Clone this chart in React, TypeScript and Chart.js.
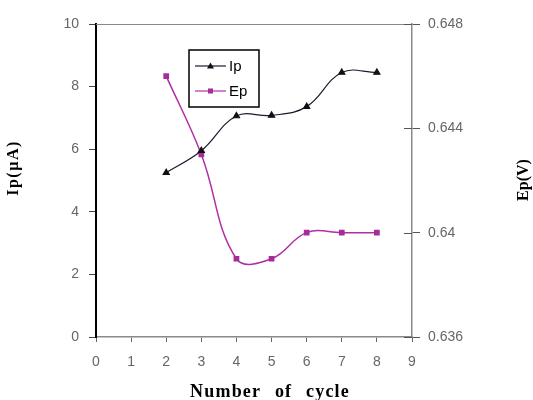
import React, { useEffect, useRef } from "react";
import { Chart, registerables } from "chart.js";

Chart.register(...registerables);

const cycles = [2, 3, 4, 5, 6, 7, 8];
const ipValues = [5.25, 5.95, 7.06, 7.08, 7.36, 8.45, 8.45];
const epValues = [0.646, 0.643, 0.639, 0.639, 0.64, 0.64, 0.64];
const xTitle = "Number of cycle";
const yTitle = "Ip(µA)";
const y1Title = "Ep(V)";
const seriesNames = ["Ip", "Ep"];

const ipColor = "#1a1a2e";
const epColor = "#b02ea6";

const decorPlugin = {
  id: "decor",
  afterDraw(chart: any) {
    const ctx = chart.ctx;
    const a = chart.chartArea;
    ctx.save();
    // top border
    ctx.strokeStyle = "#8a8a8a";
    ctx.lineWidth = 1.2;
    ctx.beginPath();
    ctx.moveTo(a.left, a.top + 0.5);
    ctx.lineTo(a.right, a.top + 0.5);
    ctx.stroke();
    // inner ticks of right axis
    const y1 = chart.scales.y1;
    ctx.strokeStyle = "#555";
    ctx.lineWidth = 1;
    y1.ticks.forEach((t: any) => {
      const py = Math.round(y1.getPixelForValue(t.value)) + 0.5;
      ctx.beginPath();
      ctx.moveTo(a.right - 8, py);
      ctx.lineTo(a.right, py);
      ctx.stroke();
    });
    // titles
    ctx.fillStyle = "#000";
    ctx.font = "bold 18px 'Liberation Serif', 'Times New Roman', serif";
    ctx.textBaseline = "alphabetic";
    ctx.textAlign = "center";
    (ctx as any).letterSpacing = "1.2px";
    (ctx as any).wordSpacing = "8px";
    ctx.fillText(xTitle, 270, 397);
    (ctx as any).wordSpacing = "0px";
    ctx.textBaseline = "middle";
    ctx.font = "bold 16px 'Liberation Serif', 'Times New Roman', serif";
    ctx.save();
    ctx.translate(14, 168);
    ctx.rotate(-Math.PI / 2);
    (ctx as any).letterSpacing = "1.5px";
    ctx.fillText(yTitle, 0, 0);
    (ctx as any).letterSpacing = "0px";
    ctx.restore();
    (ctx as any).letterSpacing = "0px";
    ctx.save();
    ctx.translate(524, 180);
    ctx.rotate(-Math.PI / 2);
    ctx.fillText(y1Title, 0, 0);
    ctx.restore();
    // legend
    const lx = 189, ly = 50, lw = 70, lh = 57;
    ctx.fillStyle = "#fff";
    ctx.fillRect(lx, ly, lw, lh);
    ctx.strokeStyle = "#000";
    ctx.lineWidth = 1.5;
    ctx.strokeRect(lx, ly, lw, lh);
    const ds = chart.data.datasets;
    ctx.font = "15px 'Liberation Sans', Arial, sans-serif";
    ctx.textAlign = "left";
    ds.forEach((d: any, i: number) => {
      const yy = ly + 16 + i * 25;
      ctx.strokeStyle = d.borderColor;
      ctx.lineWidth = 1.2;
      ctx.beginPath();
      ctx.moveTo(lx + 6, yy);
      ctx.lineTo(lx + 37, yy);
      ctx.stroke();
      ctx.fillStyle = d.pointBackgroundColor;
      if (d.pointStyle === "triangle") {
        ctx.beginPath();
        ctx.moveTo(lx + 21.5, yy - 3.5);
        ctx.lineTo(lx + 25, yy + 2.5);
        ctx.lineTo(lx + 18, yy + 2.5);
        ctx.closePath();
        ctx.fill();
      } else {
        ctx.fillRect(lx + 19, yy - 2.5, 5, 5);
      }
      ctx.fillStyle = "#000";
      ctx.fillText(seriesNames[i], lx + 40, yy + 1);
    });
    ctx.restore();
  },
};

export default function App() {
  const ref = useRef<HTMLCanvasElement>(null);
  useEffect(() => {
    if (!ref.current) return;
    const tickFont = { family: "'Liberation Sans', Arial, sans-serif", size: 14 };
    const chart = new Chart(ref.current, {
      type: "line",
      data: {
        datasets: [
          {
            label: seriesNames[0],
            data: cycles.map((c, i) => ({ x: c, y: ipValues[i] })),
            yAxisID: "y",
            borderColor: ipColor,
            backgroundColor: ipColor,
            pointBackgroundColor: "#111",
            pointBorderColor: "#111",
            pointStyle: "triangle",
            pointRadius: 3.5,
            borderWidth: 1.2,
            tension: 0.4,
          },
          {
            label: seriesNames[1],
            data: cycles.map((c, i) => ({ x: c, y: epValues[i] })),
            yAxisID: "y1",
            borderColor: epColor,
            backgroundColor: epColor,
            pointBackgroundColor: "#a52d98",
            pointBorderColor: "#a52d98",
            pointStyle: "rect",
            pointRadius: 3,
            borderWidth: 1.5,
            tension: 0.4,
          },
        ],
      },
      options: {
        animation: false,
        responsive: false,
        maintainAspectRatio: false,
        layout: { padding: { top: 24, left: 0, right: 0, bottom: 0 } },
        plugins: { legend: { display: false }, tooltip: { enabled: false } },
        scales: {
          x: {
            type: "linear",
            min: 0,
            max: 9,
            ticks: { stepSize: 1, color: "#666", font: tickFont, padding: 12 },
            grid: { drawOnChartArea: false, drawTicks: true, tickLength: 5, color: "#666" },
            border: { color: "#8a8a8a", width: 1.5 },
            afterFit: (s: any) => {
              s.height = 63;
            },
          },
          y: {
            position: "left",
            min: 0,
            max: 10,
            ticks: { stepSize: 2, color: "#666", font: tickFont, padding: 10 },
            grid: { drawOnChartArea: false, drawTicks: true, tickLength: 7, color: "#444" },
            border: { color: "#000", width: 2 },
            afterFit: (s: any) => {
              s.width = 96;
            },
          },
          y1: {
            position: "right",
            min: 0.636,
            max: 0.648,
            ticks: {
              stepSize: 0.004,
              color: "#666",
              font: tickFont,
              padding: 8,
              callback: (v: any) => String(Number(Number(v).toFixed(3))),
            },
            grid: { drawOnChartArea: false, drawTicks: true, tickLength: 8, color: "#555" },
            border: { color: "#8a8a8a", width: 1.5 },
            afterFit: (s: any) => {
              s.width = 121;
            },
          },
        },
      },
      plugins: [decorPlugin],
    } as any);
    return () => chart.destroy();
  }, []);
  return (
    <div style={{ position: "fixed", left: 0, top: 0, width: 533, height: 400, background: "#fff" }}>
      <canvas ref={ref} width={533} height={400} style={{ width: 533, height: 400 }} />
    </div>
  );
}
